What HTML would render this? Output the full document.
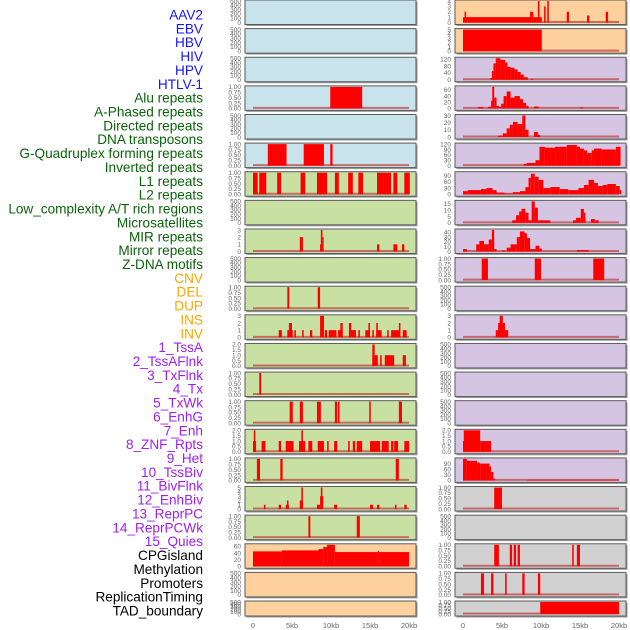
<!DOCTYPE html>
<html><head><meta charset="utf-8"><style>
html,body{margin:0;padding:0;background:#fff;width:630px;height:630px;overflow:hidden}
svg{display:block;font-family:"Liberation Sans",sans-serif}
</style></head><body>
<svg id="chart" width="630" height="630" viewBox="0 0 630 630"></svg>
<script>
// ---- data (segments: [startKb, endKb, value]) ----
const labelNames = ["AAV2","EBV","HBV","HIV","HPV","HTLV-1","Alu repeats","A-Phased repeats","Directed repeats","DNA transposons","G-Quadruplex forming repeats","Inverted repeats","L1 repeats","L2 repeats","Low_complexity A/T rich regions","Microsatellites","MIR repeats","Mirror repeats","Z-DNA motifs","CNV","DEL","DUP","INS","INV","1_TssA","2_TssAFlnk","3_TxFlnk","4_Tx","5_TxWk","6_EnhG","7_Enh","8_ZNF_Rpts","9_Het","10_TssBiv","11_BivFlnk","12_EnhBiv","13_ReprPC","14_ReprPCWk","15_Quies","CPGisland","Methylation","Promoters","ReplicationTiming","TAD_boundary"];
const labelGroups = [0,0,0,0,0,0,1,1,1,1,1,1,1,1,1,1,1,1,1,2,2,2,2,2,3,3,3,3,3,3,3,3,3,3,3,3,3,3,3,4,4,4,4,4];
const xTickValues = [0,5,10,15,20];
const xTickLabels = ["0","5kb","10kb","15kb","20kb"];

const T500 = ["0","100","200","300","400","500"];
const T1 = ["0.00","0.25","0.50","0.75","1.00"];
const T2 = ["0.0","0.5","1.0","1.5","2.0"];
const T3 = ["0","1","2","3"];

const L4 = [[9.9,14.0,1]];
const L6 = [[1.9,4.3,1],[6.5,9.1,1],[9.9,10.2,1]];
const L7 = [[0,0.6,1],[0.8,1.7,1],[3.1,3.6,1],[6.1,6.7,1],[8.2,9.5,1],[10.5,11,1],[12.2,12.8,1],[13.5,14.1,1],[15.9,17.7,1],[18,18.5,1],[19.4,20.1,1]];
const L9 = [[6,6.4,2],[8.6,8.8,1],[8.7,8.9,3],[8.9,9.05,2],[15.9,16.2,1],[18,18.5,1],[19.1,19.4,1]];
const L11 = [[4.4,4.65,1],[8.3,8.6,1]];
const L12 = [[3.3,3.7,1],[4.4,5.1,1],[4.6,5.0,2],[5.3,5.5,1],[6.3,6.5,1],[7.3,7.6,1],[8.6,9.1,3],[9.2,9.5,1],[9.7,10.7,1],[10.9,11.5,1],[11.2,11.5,2],[12.3,13.2,1],[12.3,12.6,2],[13.5,13.7,1],[14.4,15,1],[14.8,15.0,2],[15.3,15.5,1],[15.8,16.5,1],[15.8,16.0,2],[17.2,17.4,1],[17.7,18.8,1],[18.7,18.9,2],[19.2,19.7,1]];
const L13 = [[15.3,16,1],[15.3,15.6,2],[16.3,16.5,1],[16.9,18.1,1],[19.2,19.6,1]];
const L14 = [[0.8,1.05,1]];
const L15 = [[4.7,5.1,1],[6,6.4,1],[8.2,8.7,1],[10.5,10.8,1],[10.9,11.1,1],[14.9,15.1,1],[18.7,19.1,1]];
const L16 = [[0,0.4,1],[0.1,0.3,2],[1.1,1.6,1],[3.3,3.6,1],[4.2,5.2,1],[5.9,6.7,1],[6.2,6.4,2],[7.1,7.6,1],[8.3,9.1,1],[9.5,9.7,1],[10.4,10.8,1],[12.2,12.4,1],[12.8,13.1,1],[13.3,14,1],[15,16.3,1],[16.5,17.4,1],[17.7,18,1],[18.1,18.6,1],[19.4,20,1]];
const L17 = [[0.5,0.9,1],[3.5,3.8,1],[18.3,18.7,1]];
const L18 = [[1.4,1.6,1],[3.3,3.6,1],[4.2,4.6,1],[4.35,4.55,2],[6,6.4,2],[6.2,6.4,5],[8.2,8.6,1],[8.6,9,3],[8.7,8.9,5],[10.4,10.8,1],[15,15.4,1],[15.9,16.2,1],[18.2,18.4,1],[19.4,19.7,1]];
const L19 = [[7.1,7.35,1],[13.3,13.7,1]];
const L20 = [[0,3.7,45],[3.7,8.4,48],[8.4,9,52],[9,9.5,58],[9.5,10.5,65],[10.5,16,43],[16,16.2,46],[16.2,20,43]];

const R1 = [[0,10.1,1],[0.2,0.4,2],[8.6,9,2],[9.6,9.8,4],[10.4,10.6,3],[10.8,11,4],[13.3,13.6,2],[15.9,16.2,1.3],[18.3,18.6,2]];
const R2 = [[0,10.1,5]];
const R3 = [[3.5,3.7,10],[3.7,3.9,50],[3.9,4.2,95],[4.2,4.8,125],[4.8,5.4,115],[5.4,5.7,100],[5.7,6.1,75],[6.1,6.6,70],[6.6,7.0,60],[7.0,7.4,45],[7.4,7.8,30],[7.8,8.3,15],[8.7,9,5]];
const R4 = [[1.9,2.6,4],[3.2,3.6,5],[3.6,3.8,25],[3.75,4.0,70],[4.0,4.3,35],[4.3,4.6,8],[4.6,4.9,5],[4.9,5.2,15],[5.2,5.6,40],[5.6,6.1,55],[6.1,6.6,35],[6.6,7.3,40],[7.3,7.7,30],[7.7,8.1,18],[8.1,8.4,8],[9.1,9.7,6],[15.0,15.4,3]];
const R5 = [[4.5,5.1,2],[5.1,5.6,5],[5.6,6.0,12],[6.0,6.4,17],[6.4,7.0,21],[7.0,7.6,18],[7.6,8.0,30],[8.0,8.4,10],[9.1,9.6,7],[9.6,9.9,3]];
const R6 = [[7.8,8.2,10],[8.2,9.3,15],[9.3,9.8,30],[9.8,10.5,105],[10.5,11.8,100],[11.8,13.3,105],[13.3,14.6,115],[14.6,15,105],[15,15.5,95],[15.5,15.9,85],[15.9,16.5,70],[16.5,16.8,85],[16.8,17.8,95],[17.8,19.6,90],[19.6,20.2,105]];
const R7 = [[0,0.6,15],[0.6,2.3,20],[2.3,3,25],[3,3.8,30],[3.8,4.3,20],[4.3,5.3,8],[5.3,6.4,3],[6.4,7.3,10],[7.3,8,15],[8,8.4,35],[8.4,8.7,80],[8.7,9.2,100],[9.2,9.7,85],[9.7,10.3,70],[10.3,11.2,30],[11.2,12.4,35],[12.4,13.5,25],[13.5,14.8,20],[14.8,15.5,30],[15.5,16.1,45],[16.1,16.8,70],[16.8,17.3,55],[17.3,17.9,40],[17.9,18.5,45],[18.5,19.6,50],[19.6,20.1,40],[20.1,20.3,20]];
const R8 = [[6.3,6.8,2],[6.8,7.2,6],[7.2,7.5,9],[7.5,8.0,11],[8.0,8.4,8],[8.4,8.8,2],[8.8,9.2,17],[9.2,9.6,12],[9.6,11.2,2],[14.1,14.5,2],[14.5,15.1,4],[15.1,15.5,11],[15.5,15.7,8],[16.4,16.9,3],[16.9,17.4,2]];
const R9 = [[0,0.5,5],[1.7,2.1,15],[2.1,2.7,22],[2.7,3.3,15],[3.3,3.7,25],[3.7,4.0,45],[4.0,4.3,5],[5,5.4,2],[5.6,6.1,8],[6.1,6.9,15],[6.9,7.3,30],[7.3,7.9,42],[7.9,8.2,38],[8.2,8.6,28],[8.6,9.3,5],[9.3,9.8,12],[9.8,10.1,6],[14.6,16.1,3]];
const R10 = [[2.4,3.2,1],[9.2,10,1],[16.7,18.1,1]];
const R12 = [[4.2,5.8,1],[4.5,5.4,2],[4.7,5.1,3]];
const R16 = [[0,0.1,1],[0.1,2.2,2],[2.2,3.6,1]];
const R17 = [[0,0.5,115],[0.5,1.8,105],[1.8,2.2,95],[2.2,3.4,90],[3.4,3.6,75],[3.6,3.9,45],[3.9,4.1,10],[8.2,20,3]];
const R18 = [[4,5,1]];
const R20 = [[4,4.6,1],[6,6.3,1],[6.5,6.8,1],[7,7.3,1],[14,14.2,1],[14.6,15,1]];
const R21 = [[2.3,2.7,1],[3.6,3.9,1],[5.4,5.6,1],[7.6,7.9,1],[9.6,9.9,1]];
const R22 = [[9.9,20,1]];

// panel specs: [bg, tickLabels, yMax, segments]
const BLUE="#c8e3ec", GREEN="#c8e1a3", ORANGE="#fdd09e", PURPLE="#d6c5e2", GREY="#d1d1d1";
const leftPanels = [
 [BLUE,T500,500,null],[BLUE,T500,500,null],[BLUE,T500,500,null],[BLUE,T1,1,L4],[BLUE,T500,500,null],[BLUE,T1,1,L6],
 [GREEN,T1,1,L7],[GREEN,T500,500,null],[GREEN,T3,3,L9],[GREEN,T500,500,null],[GREEN,T1,1,L11],[GREEN,T3,3,L12],
 [GREEN,T2,2,L13],[GREEN,T1,1,L14],[GREEN,T1,1,L15],[GREEN,T2,2,L16],[GREEN,T1,1,L17],[GREEN,["0","1","2","3","4","5"],5,L18],
 [GREEN,T1,1,L19],[ORANGE,["0","20","40","60"],65,L20],[ORANGE,T500,500,null],[ORANGE,T500,500,null]
];
const rightPanels = [
 [ORANGE,["0","1","2","3","4"],4,R1],[ORANGE,["0","1","2","3","4","5"],5,R2],[PURPLE,["0","40","80","120"],125,R3],
 [PURPLE,["0","20","40","60"],70,R4],[PURPLE,["0","10","20","30"],30,R5],[PURPLE,["0","30","60","90","120"],120,R6],
 [PURPLE,["0","30","60","90"],105,R7],[PURPLE,["0","5","10","15"],17,R8],[PURPLE,["0","10","20","30","40"],45,R9],
 [PURPLE,T1,1,R10],[PURPLE,T500,500,null],[PURPLE,T3,3,R12],[PURPLE,T500,500,null],[PURPLE,T500,500,null],
 [PURPLE,T500,500,null],[PURPLE,T2,2,R16],[PURPLE,["0","30","60","90"],115,R17],[GREY,T1,1,R18],
 [GREY,T500,500,null],[GREY,T1,1,R20],[GREY,T1,1,R21],[GREY,T1,1,R22]
];

// ---- drawing ----
const NS="http://www.w3.org/2000/svg";
const svg=document.getElementById("chart");
function mk(tag,attrs,parent){const e=document.createElementNS(NS,tag);for(const k in attrs)e.setAttribute(k,attrs[k]);(parent||svg).appendChild(e);return e;}
const groupColors=["#1414ff","#0a640a","#ffa500","#a020f0","#000000"];

// labels
labelNames.forEach((name,i)=>{
  const t=mk("text",{x:203,y:19.5+i*13.86,"text-anchor":"end","font-size":"13.6",fill:groupColors[labelGroups[i]]});
  
  
  t.textContent=name;
});

function rowTop(i){return i*28.62;}
function rowH(i){return i===21?15:24.5;}

function drawPanel(spec,i,px0,side){
  const [bg,ticks,ymax,segs]=spec;
  const top=rowTop(i), h=rowH(i), pw=171;
  const xs=kb=>px0+8+kb*7.8;
  const ys=v=>top+1+(1-v/ymax)*(h-3);
  const g=mk("g",{});
  
  
  mk("rect",{x:px0+1.5,y:top+1.5,width:pw,height:h,fill:"#9a9a9a"},g);
  mk("rect",{x:px0,y:top,width:pw,height:h,fill:bg,stroke:"#5a5a5a","stroke-width":1},g);
  if(segs){
    mk("line",{x1:xs(0),x2:xs(20),y1:ys(0)-0.5,y2:ys(0)-0.5,stroke:"#c0504d","stroke-width":2,opacity:0.8},g);
    segs.forEach(s=>{
      const y=Math.max(top,ys(s[2]));
      const r=mk("rect",{x:xs(s[0]),y:y,width:Math.max(1.2,xs(s[1])-xs(s[0])),height:ys(0)-y,fill:"#ff0000"},g);
      
      
    });
  }
  const n=ticks.length;
  ticks.forEach((lab,k)=>{
    const v=ymax*(k/(n-1))*( (n-1)/(n-1) );
    const tv=parseFloat(lab);
    const maxTick=parseFloat(ticks[n-1]);
    const yy=ys(tv/maxTick*(maxTick<=ymax?maxTick:ymax));
    const t=mk("text",{x:px0-4,y:Math.min(yy+2.3,top+h+1),"text-anchor":"end","font-size":"6.5",fill:"#666"},g);
    
    
    t.textContent=lab;
  });
}
leftPanels.forEach((p,i)=>drawPanel(p,i,245,'left'));
rightPanels.forEach((p,i)=>drawPanel(p,i,455,'right'));

// x axes
[245,455].forEach((px0,j)=>{
  xTickValues.forEach((v,k)=>{
    const t=mk("text",{x:px0+8+v*7.8,y:628,"text-anchor":"middle","font-size":"7.5",fill:"#666"});
    
    
    t.textContent=xTickLabels[k];
  });
});
</script>
</body></html>
